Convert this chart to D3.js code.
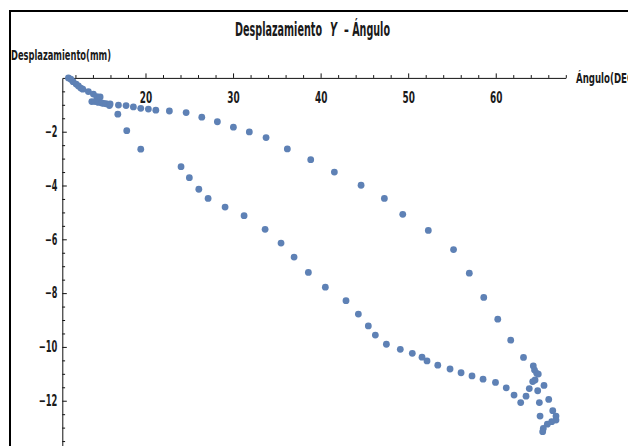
<!DOCTYPE html>
<html><head><meta charset="utf-8">
<script src="https://cdn.jsdelivr.net/npm/d3@7"></script>
<style>
html,body{margin:0;padding:0;background:#fff;}
svg{display:block;}
text{font-family:"Liberation Sans Narrow","DejaVu Sans Condensed","Roboto Condensed",sans-serif;font-weight:bold;}
</style></head>
<body>
<script>
// ---- data ----
const angulo = [11.20,11.47,11.73,12.08,12.34,12.61,12.84,13.48,14.05,14.44,14.82,13.87,14.25,14.62,15.01,15.20,15.50,15.88,15.96,16.91,17.78,18.62,19.46,20.33,21.18,22.73,24.64,26.43,28.21,30.04,31.86,33.77,36.20,38.87,41.57,44.62,47.28,49.38,52.30,55.18,56.98,58.63,60.23,61.71,63.17,64.29,64.43,64.68,64.86,64.49,64.22,64.79,65.51,64.98,66.05,65.06,66.51,66.88,66.88,66.39,65.89,65.43,65.36,
  63.83,63.46,62.85,62.09,61.20,59.97,58.55,57.29,56.04,54.78,53.38,52.15,51.58,50.47,49.10,47.51,46.25,45.45,44.31,42.90,40.54,38.60,36.97,35.48,33.66,31.26,29.09,27.15,26.09,25.01,24.06,19.46,17.86,16.84];
const desplazamiento = [0.00,-0.05,-0.14,-0.23,-0.30,-0.38,-0.42,-0.51,-0.60,-0.70,-0.71,-0.88,-0.88,-0.91,-0.93,-0.95,-0.96,-1.03,-0.97,-1.01,-1.03,-1.08,-1.13,-1.16,-1.20,-1.23,-1.29,-1.46,-1.63,-1.83,-2.01,-2.22,-2.64,-3.04,-3.50,-3.99,-4.48,-5.07,-5.67,-6.38,-7.26,-8.16,-8.97,-9.75,-10.39,-10.71,-10.86,-10.98,-11.01,-11.23,-11.29,-11.63,-11.43,-12.07,-11.95,-12.57,-12.37,-12.57,-12.72,-12.78,-12.87,-13.03,-13.15,
  -11.55,-11.83,-12.07,-11.79,-11.52,-11.32,-11.20,-11.08,-10.96,-10.82,-10.68,-10.52,-10.38,-10.24,-10.09,-9.90,-9.56,-9.22,-8.78,-8.28,-7.78,-7.23,-6.66,-6.14,-5.63,-5.12,-4.80,-4.48,-4.14,-3.71,-3.30,-2.65,-1.96,-1.35];
const xMajorTicks = [20,30,40,50,60];
const xMinorTicks = [12,14,16,18,22,24,26,28,32,34,36,38,42,44,46,48,52,54,56,58,62,64,66,68];
const yMajorTicks = [-2,-4,-6,-8,-10,-12];
const yMinorTicks = [-0.5,-1,-1.5,-2.5,-3,-3.5,-4.5,-5,-5.5,-6.5,-7,-7.5,-8.5,-9,-9.5,-10.5,-11,-11.5,-12.5,-13,-13.5];
const titulo = ["Desplazamiento", "Y", "\u2013 \u00c1ngulo"];
const ejeY = "Desplazamiento(mm)";
const ejeX = "Ángulo(DEG)";

// ---- drawing ----
const W = 628, H = 446;
const svg = d3.select("body").append("svg").attr("width", W).attr("height", H);

// frame
svg.append("rect").attr("x",10).attr("y",11).attr("width",700).attr("height",600)
  .attr("fill","none").attr("stroke","#000").attr("stroke-width",2);

const x = d3.scaleLinear().domain([10.5, 68]).range([62.3, 565.8]);
const y = d3.scaleLinear().domain([0, -13.75]).range([77.9, 447.8]);

const fmt = d => d < 0 ? "\u2212" + Math.abs(d) : String(d);

// x axis
const gx = svg.append("g").attr("transform", `translate(0,${y(0)})`);
gx.call(d3.axisBottom(x).tickValues(xMajorTicks).tickSizeInner(-4.5).tickSizeOuter(0).tickPadding(14.7).tickFormat(fmt));
const gxm = svg.append("g").attr("transform", `translate(0,${y(0)})`);
gxm.call(d3.axisBottom(x).tickValues(xMinorTicks).tickSizeInner(-2.8).tickSizeOuter(0).tickFormat(""));
gxm.select(".domain").remove();

// y axis
const gy = svg.append("g").attr("transform", `translate(${x(10.5)},0)`);
gy.call(d3.axisLeft(y).tickValues(yMajorTicks).tickSizeInner(-4.5).tickSizeOuter(0).tickPadding(5).tickFormat(fmt));
const gym = svg.append("g").attr("transform", `translate(${x(10.5)},0)`);
gym.call(d3.axisLeft(y).tickValues(yMinorTicks).tickSizeInner(-2.8).tickSizeOuter(0).tickFormat(""));
gym.select(".domain").remove();

svg.selectAll(".domain").attr("stroke","#111").attr("stroke-width",1);
svg.selectAll(".tick line").attr("stroke","#111").attr("stroke-width",1);
svg.selectAll(".tick text")
  .style("font-family",'"Liberation Sans Narrow","DejaVu Sans Condensed",sans-serif')
  .style("font-weight","bold")
  .attr("font-size",15).attr("fill","#1a1a1a")
  .attr("textLength", function(){ return this.textContent.length * 6.2; })
  .attr("lengthAdjust","spacingAndGlyphs");

// points
svg.append("g").selectAll("circle")
  .data(angulo.map((a,i)=>[a, desplazamiento[i]]))
  .join("circle")
  .attr("cx", d => x(d[0])).attr("cy", d => y(d[1]))
  .attr("r", 3.4).attr("fill", "#5E81B5");

// title (three pieces, the Y in italics)
const tParts = [
  {s: titulo[0], x: 235, w: 87, it: false},
  {s: titulo[1], x: 330, w: 7, it: true},
  {s: titulo[2], x: 344, w: 46, it: false}
];
svg.append("g").selectAll("text").data(tParts).join("text")
  .attr("x", d => d.x).attr("y", 35.5)
  .attr("font-size", 19.5).attr("fill","#1a1a1a")
  .attr("font-style", d => d.it ? "italic" : "normal")
  .attr("textLength", d => d.w).attr("lengthAdjust","spacingAndGlyphs")
  .text(d => d.s);

// axis labels
svg.append("text").attr("x", 11).attr("y", 59.5).attr("font-size", 14.5).attr("fill","#1a1a1a")
  .attr("textLength", 100).attr("lengthAdjust","spacingAndGlyphs").text(ejeY);
svg.append("text").attr("x", 576).attr("y", 83).attr("font-size", 14.5).attr("fill","#1a1a1a")
  .attr("textLength", 62).attr("lengthAdjust","spacingAndGlyphs").text(ejeX);
</script>
</body></html>
